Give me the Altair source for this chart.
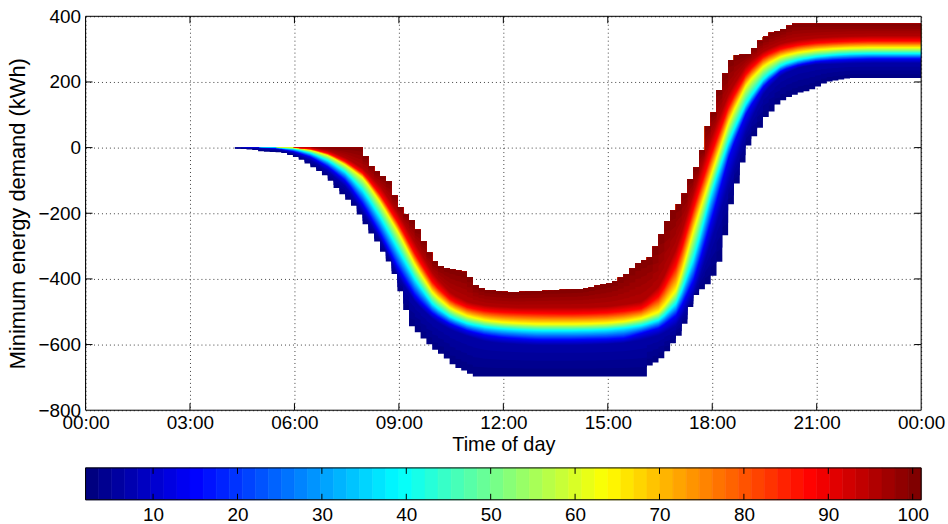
import altair as alt
import numpy as np
import pandas as pd

# ---------------- values ----------------
# half-hour grid for the smooth inner percentile curves (hours of the day)
HOURS = [4.0, 4.5, 5.0, 5.5, 6.0, 6.5, 7.0, 7.5, 8.0, 8.5, 9.0, 9.5, 10.0, 10.5,
         11.0, 11.5, 12.0, 12.5, 13.0, 13.5, 14.0, 14.5, 15.0, 15.5, 16.0, 16.5,
         17.0, 17.5, 18.0, 18.5, 19.0, 19.5, 20.0, 20.5, 21.0, 21.5, 22.0, 22.5,
         23.0, 23.5, 24.0]

P05 = [0, 0, -2, -5, -18, -40, -75, -122, -202, -285, -396, -475, -525, -555,
       -575, -590, -596, -599, -601, -601, -601, -600, -598, -594, -585, -570,
       -540, -440, -275, -100, 60, 170, 222, 245, 254, 255, 257, 258, 258, 258, 258]
P12 = [0, 0, 0, -2, -12, -30, -62, -105, -180, -272, -375, -460, -510, -540,
       -560, -573, -580, -584, -587, -587, -587, -586, -585, -582, -565, -550,
       -510, -400, -215, -20, 110, 190, 235, 252, 262, 266, 268, 270, 270, 270, 270]
P37 = [0, 0, 0, 0, -4, -18, -42, -78, -136, -220, -316, -410, -482, -518,
       -538, -548, -553, -556, -558, -558, -558, -557, -555, -550, -542, -525,
       -472, -330, -130, 25, 140, 212, 252, 268, 277, 282, 285, 286, 286, 286, 286]
P62 = [0, 0, 0, 0, 0, -8, -25, -55, -95, -172, -262, -365, -448, -492,
       -515, -527, -533, -536, -538, -538, -538, -537, -535, -530, -520, -500,
       -430, -240, -75, 85, 195, 250, 278, 290, 297, 301, 303, 304, 304, 304, 304]
P87 = [0, 0, 0, 0, 0, -4, -18, -44, -80, -148, -232, -330, -415, -465,
       -488, -498, -502, -504, -505, -506, -506, -505, -503, -498, -490, -450,
       -350, -170, -10, 135, 230, 280, 302, 313, 319, 322, 324, 325, 325, 325, 325]
P95 = [0, 0, 0, 0, 0, 0, -10, -33, -66, -122, -205, -298, -388, -445,
       -472, -482, -486, -488, -488, -488, -488, -487, -485, -478, -470, -420,
       -300, -125, 40, 170, 255, 295, 318, 328, 334, 337, 339, 340, 340, 340, 340]

# jagged outer envelopes (1st and 100th percentile)
LOWER_T = [4.29, 4.8, 5.09, 5.66, 6.0, 6.23, 6.51, 6.8, 7.03, 7.29, 7.57, 7.74,
           7.94, 8.14, 8.34, 8.51, 8.8, 9.0, 9.17, 9.37, 9.74, 10.03, 10.31, 10.6,
           10.89, 11.17, 16.09, 16.17, 16.46, 16.6, 16.8, 17.09, 17.29, 17.43,
           17.6, 17.85, 18.03, 18.2, 18.29, 18.4, 18.51, 18.71, 18.89, 19.09,
           19.29, 19.51, 19.74, 19.89, 20.17, 20.51, 20.8, 21.09, 21.29, 21.66,
           21.94, 24.0]
LOWER_V = [-3, -6, -12, -15, -27, -38, -58, -77, -100, -134, -162, -181, -215,
           -252, -280, -312, -363, -423, -484, -544, -585, -615, -636, -666, -680,
           -697, -697, -666, -650, -636, -606, -566, -515, -465, -440, -420, -393,
           -350, -320, -250, -184, -108, -39, 22, 43, 90, 113, 134, 153, 167, 174,
           189, 200, 207, 212, 212]
UPPER_T = [4.29, 7.89, 8.03, 8.23, 8.51, 8.74, 8.89, 9.09, 9.37, 9.6, 9.8, 10.0,
           10.23, 10.6, 11.0, 11.09, 11.46, 12.23, 14.31, 15.17, 15.57, 15.86,
           16.23, 16.46, 16.6, 16.8, 17.14, 17.29, 17.49, 17.66, 17.8, 18.0,
           18.14, 18.29, 18.43, 18.6, 19.09, 19.29, 19.37, 19.71, 19.94, 20.31, 24.0]
UPPER_V = [0, 0, -24, -60, -85, -105, -151, -191, -221, -261, -306, -343, -363,
           -372, -381, -412, -433, -441, -430, -409, -383, -352, -333, -282, -251,
           -200, -160, -114, -70, -39, 53, 89, 153, 204, 241, 280, 286, 316, 325,
           350, 356, 377, 377]

KEY_PCT = [1, 5, 12, 37, 62, 87, 95, 100]

X_TICKS = [0, 3, 6, 9, 12, 15, 18, 21, 24]
Y_TICKS = [-800, -600, -400, -200, 0, 200, 400]
CB_TICKS = [10, 20, 30, 40, 50, 60, 70, 80, 90, 100]
CB_RANGE = [2, 101]
N_STRIPES = 64

JET_STOPS = [1, 13.375, 38.125, 62.875, 87.625, 100]
JET_COLORS = ['#000080', '#0000ff', '#00ffff', '#ffff00', '#ff0000', '#800000']

# ---------------- build the percentile bands ----------------
STEP = 1.0 / 6.0  # 10-minute resolution of the envelopes
t_pts, mids = [], []
a = LOWER_T[0]
while a < 24.0 - 1e-9:
    b = min(a + STEP, 24.0)
    m = 0.5 * (a + b)
    t_pts += [a, b - 1e-4 if b < 24.0 else b]
    mids += [m, m]
    a = b
t = np.array(t_pts)
mids = np.array(mids)
lo_edge = np.interp(mids, LOWER_T, LOWER_V)
up_edge = np.interp(mids, UPPER_T, UPPER_V)
inner = [np.interp(t, HOURS, arr) for arr in (P05, P12, P37, P62, P87, P95)]
stack = np.vstack([lo_edge] + inner + [up_edge])
stack[1:-1] = np.clip(stack[1:-1], lo_edge[None, :], up_edge[None, :])
stack = np.maximum.accumulate(stack, axis=0)

levels = np.arange(1, 101)
sub = np.empty((100, len(t)))
for j in range(len(t)):
    sub[:, j] = np.interp(levels, KEY_PCT, stack[:, j])

frames = []
for p in range(1, 100):
    frames.append(pd.DataFrame({
        't': np.round(t, 4),
        'lo': np.round(sub[p - 1], 2),
        'hi': np.round(sub[99], 2),
        'c': p + 0.5,
        'p': p,
    }))
band_df = pd.concat(frames, ignore_index=True)

# colorbar stripes
k = np.arange(N_STRIPES)
span = CB_RANGE[1] - CB_RANGE[0]
cb_df = pd.DataFrame({
    'x0': CB_RANGE[0] + span * k / N_STRIPES,
    'x1': CB_RANGE[0] + span * (k + 1) / N_STRIPES,
    'c': 1 + 99 * k / (N_STRIPES - 1),
})

# ---------------- chart ----------------
FONT = 'Liberation Sans'
W, H = 840, 396
jet = alt.Scale(domain=JET_STOPS, range=JET_COLORS, interpolate='rgb')
x_scale = alt.Scale(domain=[0, 24], nice=False, zero=False)
y_scale = alt.Scale(domain=[-800, 400], nice=False, zero=False)

x_axis = alt.Axis(
    values=X_TICKS,
    labelExpr="datum.value == 24 ? '00:00' : (datum.value < 10 ? '0' : '') + datum.value + ':00'",
    title='Time of day', labelFontSize=19, titleFontSize=20, titleFontWeight='normal',
    labelPadding=3, titlePadding=2, tickSize=0, domain=False, grid=True,
    gridColor='#000000', gridDash=[1, 3], gridOpacity=0.75, labelFlush=False,
    labelColor='black', titleColor='black', labelFont=FONT, titleFont=FONT)
y_axis = alt.Axis(
    values=Y_TICKS, format='d', title='Minimum energy demand (kWh)',
    labelFontSize=19, titleFontSize=22, titleFontWeight='normal',
    labelPadding=5, titlePadding=9, tickSize=0, domain=False, grid=True,
    gridColor='#000000', gridDash=[1, 3], gridOpacity=0.75,
    labelColor='black', titleColor='black', labelFont=FONT, titleFont=FONT)

bands = alt.Chart(band_df).mark_area(interpolate='linear', clip=True).encode(
    x=alt.X('t:Q', scale=x_scale, axis=x_axis),
    y=alt.Y('lo:Q', scale=y_scale, axis=y_axis, stack=None),
    y2='hi:Q',
    color=alt.Color('c:Q', scale=jet, legend=None),
    detail='p:N',
)

ytick_df = pd.DataFrame({'lo': Y_TICKS[1:-1]})
xtick_df = pd.DataFrame({'t': X_TICKS[1:-1]})
ticks_left = alt.Chart(ytick_df).mark_rule(color='black', strokeWidth=1).encode(
    y=alt.Y('lo:Q', scale=y_scale, axis=y_axis), x=alt.value(0), x2=alt.value(7))
ticks_right = alt.Chart(ytick_df).mark_rule(color='black', strokeWidth=1).encode(
    y=alt.Y('lo:Q', scale=y_scale, axis=y_axis), x=alt.value(W - 7), x2=alt.value(W))
ticks_top = alt.Chart(xtick_df).mark_rule(color='black', strokeWidth=1).encode(
    x=alt.X('t:Q', scale=x_scale, axis=x_axis), y=alt.value(0), y2=alt.value(7))
ticks_bottom = alt.Chart(xtick_df).mark_rule(color='black', strokeWidth=1).encode(
    x=alt.X('t:Q', scale=x_scale, axis=x_axis), y=alt.value(H - 7), y2=alt.value(H))
frame = alt.Chart(pd.DataFrame({'a': [0]})).mark_rect(
    filled=False, stroke='black', strokeWidth=1).encode(
    x=alt.value(0), x2=alt.value(W), y=alt.value(0), y2=alt.value(H))

main = alt.layer(bands, ticks_left, ticks_right, ticks_top, ticks_bottom, frame).properties(
    width=W, height=H)

CBH = 32
cb_axis = alt.Axis(values=CB_TICKS, format='d', title=None, labelFontSize=19,
                   labelPadding=6, tickSize=0, domain=False, grid=False,
                   labelFlush=False, labelColor='black', labelFont=FONT)
cb_x = alt.Scale(domain=CB_RANGE, nice=False, zero=False)
stripes = alt.Chart(cb_df).mark_rect(strokeWidth=0.6).encode(
    x=alt.X('x0:Q', scale=cb_x, axis=cb_axis), x2='x1:Q',
    y=alt.value(0), y2=alt.value(CBH),
    color=alt.Color('c:Q', scale=jet, legend=None),
    stroke=alt.Stroke('c:Q', scale=jet, legend=None),
)
cbt_df = pd.DataFrame({'x0': CB_TICKS})
cb_ticks_top = alt.Chart(cbt_df).mark_rule(color='black', strokeWidth=1).encode(
    x=alt.X('x0:Q', scale=cb_x, axis=cb_axis), y=alt.value(0), y2=alt.value(6))
cb_ticks_bot = alt.Chart(cbt_df).mark_rule(color='black', strokeWidth=1).encode(
    x=alt.X('x0:Q', scale=cb_x, axis=cb_axis), y=alt.value(CBH - 6), y2=alt.value(CBH))
cb_frame = alt.Chart(pd.DataFrame({'a': [0]})).mark_rect(
    filled=False, stroke='black', strokeWidth=1).encode(
    x=alt.value(0), x2=alt.value(W), y=alt.value(0), y2=alt.value(CBH))
colorbar = alt.layer(stripes, cb_ticks_top, cb_ticks_bot, cb_frame).properties(
    width=W, height=CBH)

chart = alt.vconcat(main, colorbar, spacing=58, bounds='flush').resolve_scale(
    color='independent', stroke='independent'
).properties(
    padding={'left': 5, 'top': 5, 'right': 2, 'bottom': 0},
    background='white',
).configure_view(stroke=None).configure(font=FONT)

chart.save('out.html', embed_options={'renderer': 'svg', 'actions': False})
